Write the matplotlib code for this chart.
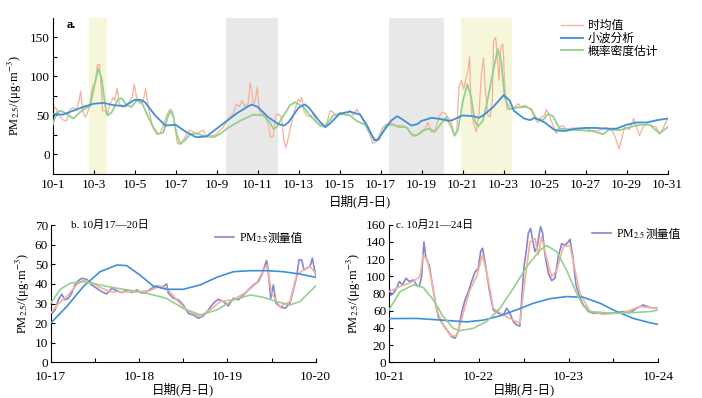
import numpy as np
import matplotlib
matplotlib.use('Agg')
import matplotlib.pyplot as plt

plt.rcParams['font.family'] = ['Liberation Serif', 'Noto Sans CJK SC']
plt.rcParams['mathtext.fontset'] = 'stix'
plt.rcParams['axes.unicode_minus'] = False

# ── Panel a: whole month (day of October) ──
hourly_day = [1.00, 1.08, 1.20, 1.36, 1.52, 1.68, 1.85, 2.01, 2.17, 2.30, 2.37, 2.46, 2.58, 2.69, 2.82,
              2.95, 3.07, 3.18, 3.28, 3.36, 3.44, 3.55, 3.67, 3.80, 3.96, 4.04, 4.15, 4.25, 4.41, 4.58,
              4.74, 4.90, 4.98, 5.10, 5.26, 5.42, 5.54, 5.62, 5.75, 5.91, 6.07, 6.24, 6.40, 6.56, 6.72,
              6.85, 6.97, 7.08, 7.24, 7.37, 7.54, 7.70, 7.86, 8.02, 8.19, 8.35, 8.51, 8.67, 8.84, 9.00,
              9.16, 9.33, 9.49, 9.65, 9.81, 9.98, 10.11, 10.24, 10.38, 10.54, 10.63, 10.71, 10.79, 10.87,
              10.98, 11.08, 11.20, 11.36, 11.52, 11.63, 11.76, 11.89, 12.01, 12.17, 12.28, 12.38, 12.45,
              12.58, 12.74, 12.90, 12.98, 13.07, 13.15, 13.26, 13.39, 13.55, 13.72, 13.88, 14.04, 14.20,
              14.37, 14.53, 14.69, 14.85, 15.02, 15.18, 15.34, 15.50, 15.67, 15.83, 15.98, 16.22, 16.46,
              16.63, 16.79, 16.95, 17.11, 17.28, 17.44, 17.76, 18.09, 18.33, 18.58, 18.90, 19.15, 19.31,
              19.47, 19.63, 19.80, 19.88, 20.04, 20.17, 20.28, 20.45, 20.61, 20.72, 20.82, 20.93, 21.05,
              21.15, 21.26, 21.34, 21.42, 21.54, 21.67, 21.80, 21.91, 22.02, 22.12, 22.24, 22.35, 22.45,
              22.51, 22.61, 22.69, 22.77, 22.87, 22.97, 23.05, 23.16, 23.33, 23.54, 23.70, 23.86, 24.02,
              24.19, 24.35, 24.51, 24.67, 24.84, 25.00, 25.08, 25.24, 25.41, 25.57, 25.73, 25.89, 26.06,
              26.38, 26.71, 27.03, 27.36, 27.68, 28.01, 28.33, 28.50, 28.63, 28.74, 28.90, 29.15, 29.34,
              29.47, 29.63, 29.80, 29.96, 30.20, 30.45, 30.61, 30.77, 31.00]
hourly_val = [52, 61, 58, 48, 44, 43, 58, 60, 57, 71, 81, 56, 48, 52, 65,
              88, 92, 114, 116, 88, 56, 56, 50, 65, 73, 69, 85, 65, 61, 61,
              67, 75, 90, 73, 65, 69, 84, 69, 50, 33, 26, 27, 37, 50, 58,
              55, 35, 14, 13, 18, 26, 31, 29, 26, 29, 31, 22, 24, 24, 26,
              31, 35, 43, 48, 52, 65, 61, 69, 61, 65, 92, 82, 65, 67,
              86, 56, 52, 50, 39, 22, 23, 50, 52, 47, 18, 9, 16,
              31, 50, 65, 71, 67, 73, 56, 50, 48, 52, 40, 39, 35,
              39, 56, 54, 50, 54, 53, 50, 56, 50, 58, 52, 39, 26,
              14, 16, 26, 35, 38, 41, 37, 37, 33, 23, 26, 31, 41,
              29, 29, 43, 50, 54, 52, 48, 41, 24, 31, 86, 95, 84,
              96, 107, 125, 56, 39, 29, 52, 101, 124, 78, 50, 48, 69,
              146, 150, 129, 95, 139, 141, 90, 58, 58, 60, 65, 61, 63,
              60, 57, 46, 41, 48, 50, 58, 50, 37, 27, 35, 37, 32,
              34, 32, 34, 29, 31, 35, 29, 18, 7, 18, 35, 32, 46,
              37, 24, 35, 39, 37, 35, 26, 33, 46]

wavelet_day = [1, 1.5, 2, 2.5, 3, 3.5, 4, 4.5, 5, 5.3, 5.5, 6, 6.5, 7, 7.5, 8, 8.5, 9, 9.5, 10,
               10.5, 10.7, 11, 11.5, 12, 12.3, 12.5, 13, 13.3, 13.5, 14, 14.3, 14.5, 15, 15.5, 16,
               16.3, 16.7, 16.9, 17, 17.5, 17.8, 18, 18.5, 18.8, 19, 19.5, 20, 20.3, 20.5, 21, 21.5,
               21.8, 22, 22.5, 23, 23.3, 23.5, 24, 24.3, 24.5, 25, 25.5, 26, 26.5, 27, 27.5, 28,
               28.5, 29, 29.5, 30, 30.5, 31]
wavelet_val = [52, 51, 56, 61, 65, 66, 63, 62, 70, 70, 67, 50, 37, 38, 29, 22, 23, 33, 43, 53,
               61, 64, 61, 48, 39, 37, 41, 60, 64, 60, 43, 35, 39, 52, 55, 51,
               39, 18, 19, 24, 43, 49, 46, 37, 39, 43, 47, 45, 43, 44, 50, 49,
               47, 50, 61, 76, 69, 56, 46, 44, 47, 41, 31, 30, 33, 34, 34, 33,
               33, 38, 41, 41, 44, 46]

kde_day = [1.00, 1.20, 1.41, 1.68, 2.01, 2.33, 2.63, 2.82, 3.02, 3.23, 3.39, 3.55, 3.67, 3.88, 4.20,
           4.37, 4.61, 4.85, 5.10, 5.34, 5.59, 5.91, 6.15, 6.40, 6.64, 6.76, 6.89, 7.05, 7.21, 7.46,
           7.70, 8.02, 8.35, 8.84, 9.16, 9.49, 10.14, 10.79, 11.28, 11.60, 11.76, 11.93, 12.17, 12.58,
           12.82, 13.23, 13.55, 14.04, 14.28, 14.69, 15.02, 15.50, 15.83, 15.98, 16.30, 16.63, 16.79,
           17.03, 17.28, 17.60, 17.93, 18.25, 18.50, 18.74, 19.07, 19.39, 19.63, 19.88, 20.20, 20.45,
           20.61, 20.77, 21.02, 21.23, 21.42, 21.59, 21.75, 21.99, 22.24, 22.56, 22.72, 22.89, 23.05,
           23.29, 23.62, 24.11, 24.35, 24.59, 24.92, 25.16, 25.41, 25.73, 26.22, 26.71, 27.36, 27.85,
           28.17, 28.66, 29.15, 29.63, 30.12, 30.61, 31.00]
kde_val = [38, 54, 56, 52, 46, 54, 60, 61, 86, 110, 97, 65, 50, 54, 71,
           72, 63, 61, 69, 67, 52, 35, 26, 28, 50, 56, 48, 26, 14, 18,
           26, 27, 24, 22, 26, 33, 43, 51, 50, 41, 33, 35, 46, 63,
           67, 61, 50, 37, 36, 50, 52, 50, 43, 41, 37, 22, 18,
           26, 38, 38, 35, 35, 26, 24, 31, 33, 29, 37, 48, 35,
           24, 31, 69, 90, 73, 43, 36, 43, 73, 116, 135, 118, 73,
           58, 60, 61, 58, 46, 44, 52, 49, 33, 32, 31, 30, 26,
           32, 31, 35, 38, 38, 27, 35]

yellow_spans = [(2.76, 3.63), (20.9, 23.4)]
gray_spans = [(9.44, 11.98), (17.39, 20.07)]

# ── Panel b: 10-17 .. 10-20 ──
b_meas_day = [17.000, 17.049, 17.087, 17.125, 17.162, 17.200, 17.238, 17.275, 17.313, 17.351, 17.408,
              17.464, 17.521, 17.577, 17.634, 17.691, 17.747, 17.804, 17.860, 17.917, 17.974, 18.030,
              18.087, 18.143, 18.200, 18.257, 18.313, 18.332, 18.389, 18.445, 18.502, 18.558, 18.615,
              18.672, 18.728, 18.785, 18.842, 18.898, 18.955, 19.011, 19.068, 19.125, 19.181, 19.238,
              19.294, 19.351, 19.389, 19.426, 19.445, 19.464, 19.491, 19.521, 19.551, 19.596, 19.653,
              19.709, 19.747, 19.785, 19.811, 19.842, 19.868, 19.898, 19.936, 19.962, 19.992, 20.000]
b_meas_val = [24.2, 26.7, 31.9, 34.8, 31.9, 32.7, 35.3, 39.5, 41.7, 42.9, 42.4,
              39.5, 37.8, 36.1, 34.9, 37.8, 36.6, 35.6, 37.0, 35.6, 37.0, 35.3,
              36.1, 37.8, 39.0, 38.3, 40.0, 35.3, 32.7, 31.9, 29.3, 25.0, 24.2,
              22.5, 23.7, 26.7, 30.2, 32.2, 31.0, 28.8, 32.7, 31.9, 34.4, 37.0,
              39.5, 41.2, 44.6, 49.7, 52.0, 46.3, 32.7, 39.5, 30.2, 28.4, 27.6,
              30.2, 37.0, 43.8, 52.3, 52.3, 47.2, 48.0, 48.9, 53.2, 46.3, 44.6]
b_hourly_day = [17.000, 17.087, 17.181, 17.294, 17.370, 17.445, 17.558, 17.672, 17.823, 17.974, 18.125,
                18.238, 18.313, 18.426, 18.540, 18.691, 18.804, 18.917, 19.068, 19.219, 19.332, 19.408,
                19.445, 19.502, 19.596, 19.709, 19.785, 19.860, 19.936, 20.000]
b_hourly_val = [25, 30, 33.6, 39.5, 42, 41.2, 38.3, 36, 36, 36, 36.6,
                39, 37.8, 32, 26.7, 23.3, 26.7, 31, 32, 36, 40.4, 47,
                49.7, 35.3, 28.4, 31, 44.6, 47.2, 48.9, 45.5]
b_wavelet_day = [17.00, 17.18, 17.37, 17.56, 17.75, 17.86, 18.01, 18.16, 18.31, 18.50, 18.69, 18.88,
                 19.07, 19.26, 19.45, 19.63, 19.82, 20.00]
b_wavelet_val = [20, 28.4, 38.7, 46.3, 49.7, 49.4, 44.6, 39, 37.3, 37.3, 39.5, 43.4,
                 46.3, 46.8, 46.8, 46.3, 45.1, 43.4]
b_kde_day = [17.00, 17.11, 17.22, 17.37, 17.56, 17.75, 17.93, 18.12, 18.31, 18.50, 18.69, 18.88,
             19.07, 19.26, 19.41, 19.56, 19.71, 19.82, 20.00]
b_kde_val = [30.2, 37.3, 40.4, 41.2, 39.5, 37.8, 36.6, 34.9, 32.7, 27.6, 24.2, 26.7,
             31.9, 34.4, 33.2, 31, 29.3, 31, 39]

# ── Panel c: 10-21 .. 10-24 ──
c_meas_day = [21.000, 21.019, 21.048, 21.085, 21.115, 21.152, 21.189, 21.227, 21.271, 21.308, 21.338,
              21.364, 21.390, 21.412, 21.449, 21.475, 21.512, 21.550, 21.605, 21.661, 21.698, 21.735,
              21.772, 21.809, 21.847, 21.884, 21.921, 21.958, 21.995, 22.021, 22.043, 22.069, 22.095,
              22.125, 22.162, 22.218, 22.274, 22.311, 22.348, 22.385, 22.422, 22.459, 22.478, 22.504,
              22.526, 22.552, 22.578, 22.600, 22.626, 22.652, 22.675, 22.690, 22.712, 22.738, 22.775,
              22.812, 22.849, 22.886, 22.924, 22.961, 22.998, 23.016, 23.046, 23.083, 23.128, 23.165,
              23.221, 23.276, 23.388, 23.499, 23.610, 23.685, 23.759, 23.833, 23.907, 24.000]
c_meas_val = [88, 78, 80, 86, 94, 90, 97.7, 94, 95.7, 90, 88,
              99.6, 140, 121, 113, 95.7, 72.5, 53, 43.4, 35.7, 29.8, 28,
              35.7, 57, 72.5, 82, 94, 105, 109, 128.7, 132.6, 117, 99.6,
              80, 60.9, 57, 55, 62.8, 57, 47.3, 43.4, 42.2, 72.5, 111,
              126.7, 150, 155.8, 142, 128.7, 134.5, 150, 157.8, 150, 124.8, 103.5,
              95, 97.7, 122.9, 138, 136, 140, 143, 124.8, 90, 74.4, 66.7,
              59, 57, 57, 57, 59, 57.8, 62.8, 66.7, 63.6, 62.8]
c_hourly_day = [21.000, 21.123, 21.271, 21.345, 21.382, 21.427, 21.475, 21.531, 21.605, 21.680, 21.754,
                21.828, 21.902, 21.976, 22.043, 22.106, 22.162, 22.274, 22.385, 22.459, 22.496, 22.571,
                22.626, 22.663, 22.700, 22.756, 22.812, 22.868, 22.942, 23.016, 23.053, 23.128, 23.239,
                23.388, 23.610, 23.796, 24.000]
c_hourly_val = [82, 88, 94, 99.6, 124.8, 119, 95.7, 60.9, 43.4, 31.8, 29.8,
                57, 84, 99.6, 124.8, 95.7, 62.8, 55, 49, 45, 80, 140,
                144, 124.8, 146, 121, 99.6, 107, 134.5, 136, 117, 80, 59,
                55.8, 57.8, 64.7, 62.8]
c_wavelet_day = [21.000, 21.308, 21.680, 21.865, 22.051, 22.237, 22.422, 22.608, 22.794, 22.979, 23.165,
                 23.351, 23.536, 23.722, 23.907, 24.000]
c_wavelet_val = [50.8, 51.0, 48.4, 47.0, 49.0, 54.0, 61.0, 68.6, 74.0, 76.4, 75.6,
                 68.6, 59.0, 51.0, 46.0, 44.0]
c_kde_day = [21.000, 21.123, 21.271, 21.382, 21.494, 21.605, 21.717, 21.791, 21.939, 22.088, 22.237,
             22.385, 22.534, 22.682, 22.756, 22.868, 22.979, 23.091, 23.165, 23.239, 23.388, 23.536,
             23.722, 23.907, 24.000]
c_kde_val = [60.9, 82, 90, 87, 72.5, 53, 39.5, 36.8, 39.5, 47.3, 62.8,
             86, 111, 130.6, 135.7, 128.7, 107, 80, 65.5, 59, 57.8, 57,
             57.8, 59, 60.9]

C_HOURLY = '#f7b09a'
C_WAVE = '#3f8fda'
C_KDE = '#94d08e'
C_MEAS = '#8388d6'
YLAB = r'PM$_{2.5}$/(μg·m$^{-3}$)'
XLAB = '日期(月-日)'

fig = plt.figure(figsize=(7.02, 3.98), dpi=100)
ax_a = fig.add_axes([0.075, 0.563, 0.876, 0.392])
ax_b = fig.add_axes([0.0722, 0.0897, 0.3775, 0.3443])
ax_c = fig.add_axes([0.554, 0.0897, 0.3838, 0.3458])

for ax in (ax_a, ax_b, ax_c):
    ax.spines['top'].set_visible(False)
    ax.spines['right'].set_visible(False)
    ax.tick_params(direction='in', labelsize=9.5, length=3, width=0.8, pad=2)
    ax.tick_params(which='minor', direction='in', length=3, width=0.8)
ax_a.tick_params(axis='x', pad=4)
ax_b.tick_params(axis='x', pad=6)
ax_c.tick_params(axis='x', pad=6)

# panel a
for lo, hi in yellow_spans:
    ax_a.axvspan(lo, hi, color='#f6f7da', lw=0, zorder=0)
for lo, hi in gray_spans:
    ax_a.axvspan(lo, hi, color='#e8e8e8', lw=0, zorder=0)
ax_a.plot(hourly_day, hourly_val, color=C_HOURLY, lw=0.9, label='时均值', zorder=2)
ax_a.plot(wavelet_day, wavelet_val, color=C_WAVE, lw=1.3, label='小波分析', zorder=4)
ax_a.plot(kde_day, kde_val, color=C_KDE, lw=1.3, label='概率密度估计', zorder=3)
ax_a.set_xlim(1, 31)
ax_a.set_ylim(-25, 175)
ax_a.set_xticks(np.arange(1, 32, 2))
ax_a.set_xticklabels([f'10-{d}' for d in range(1, 32, 2)])
ax_a.set_yticks([0, 50, 100, 150])
ax_a.set_yticks([25, 75, 125], minor=True)
ax_a.set_xlabel(XLAB, fontsize=9, labelpad=2)
ax_a.set_ylabel(YLAB, fontsize=9, labelpad=4)
ax_a.text(0.023, 0.995, 'a.', transform=ax_a.transAxes, fontsize=9, va='top', fontweight='bold')
handles, labels = ax_a.get_legend_handles_labels()
ax_a.legend(handles, labels, loc='upper left', bbox_to_anchor=(0.826, 0.985), frameon=False,
            fontsize=8.5, handlelength=1.9, handletextpad=0.4, labelspacing=0.05,
            borderpad=0, borderaxespad=0)

# panel b
ax_b.plot(b_meas_day, b_meas_val, color=C_MEAS, lw=1.2, label=r'PM$_{2.5}$', zorder=2)
ax_b.plot(b_hourly_day, b_hourly_val, color=C_HOURLY, lw=1.2, zorder=3)
ax_b.plot(b_wavelet_day, b_wavelet_val, color=C_WAVE, lw=1.2, zorder=4)
ax_b.plot(b_kde_day, b_kde_val, color=C_KDE, lw=1.2, zorder=4)
ax_b.set_xlim(17, 20)
ax_b.set_ylim(0, 70)
ax_b.set_xticks([17, 18, 19, 20])
ax_b.set_xticklabels(['10-17', '10-18', '10-19', '10-20'])
ax_b.set_xticks([17.5, 18.5, 19.5], minor=True)
ax_b.set_yticks(np.arange(0, 71, 10))
ax_b.set_xlabel(XLAB, fontsize=9, labelpad=0)
ax_b.set_ylabel(YLAB, fontsize=9, labelpad=2)
ax_b.text(0.075, 1.0, 'b. 10月17—20日', transform=ax_b.transAxes, fontsize=8, va='center')
leg_b = ax_b.legend(loc='center left', bbox_to_anchor=(0.62, 0.905), frameon=False, fontsize=8.5,
                    handlelength=1.6, handletextpad=0.4, borderpad=0, borderaxespad=0)

# panel c
ax_c.plot(c_meas_day, c_meas_val, color=C_MEAS, lw=1.2, label=r'PM$_{2.5}$', zorder=2)
ax_c.plot(c_hourly_day, c_hourly_val, color=C_HOURLY, lw=1.2, zorder=3)
ax_c.plot(c_wavelet_day, c_wavelet_val, color=C_WAVE, lw=1.2, zorder=4)
ax_c.plot(c_kde_day, c_kde_val, color=C_KDE, lw=1.2, zorder=4)
ax_c.set_xlim(21, 24)
ax_c.set_ylim(0, 160)
ax_c.set_xticks([21, 22, 23, 24])
ax_c.set_xticklabels(['10-21', '10-22', '10-23', '10-24'])
ax_c.set_xticks([21.5, 22.5, 23.5], minor=True)
ax_c.set_yticks(np.arange(0, 161, 20))
ax_c.set_xlabel(XLAB, fontsize=9, labelpad=0)
ax_c.set_ylabel(YLAB, fontsize=9, labelpad=2)
ax_c.text(0.025, 1.0, 'c. 10月21—24日', transform=ax_c.transAxes, fontsize=8, va='center')
leg_c = ax_c.legend(loc='center left', bbox_to_anchor=(0.755, 0.93), frameon=False, fontsize=8.5,
                    handlelength=1.6, handletextpad=0.4, borderpad=0, borderaxespad=0)

# mathtext has no CJK glyphs, so append "测量值" right after the legend text
fig.canvas.draw()
for leg in (leg_b, leg_c):
    t = leg.get_texts()[0]
    bb = t.get_window_extent()
    x0, y0 = t.get_transform().transform(t.get_position())
    fig.text(bb.x1 + 0.5, y0, '测量值', transform=None, fontsize=8.5, va='baseline', ha='left')

fig.savefig('out.png', dpi=100)
